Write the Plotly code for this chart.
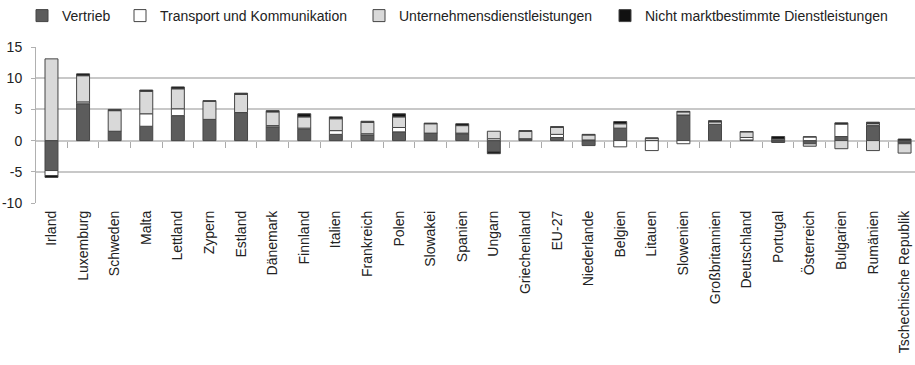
import plotly.graph_objects as go

categories = ["Irland", "Luxemburg", "Schweden", "Malta", "Lettland", "Zypern", "Estland",
              "Dänemark", "Finnland", "Italien", "Frankreich", "Polen", "Slowakei", "Spanien",
              "Ungarn", "Griechenland", "EU-27", "Niederlande", "Belgien", "Litauen",
              "Slowenien", "Großbritannien", "Deutschland", "Portugal", "Österreich",
              "Bulgarien", "Rumänien", "Tschechische Republik"]

vertrieb = [-4.8, 5.9, 1.5, 2.3, 4.0, 3.4, 4.5, 2.2, 1.8, 1.0, 0.9, 1.4, 1.2, 1.1,
            -1.8, 0.3, 0.5, -0.8, 2.0, 0.0, 4.1, 2.6, 0.1, -0.3, -0.5, 0.65, 2.4, -0.4]
transport = [-0.8, 0.3, 0.0, 2.0, 1.1, 0.0, 0.0, 0.2, 0.2, 0.6, 0.2, 0.7, 0.0, 0.1,
             0.3, 0.0, 0.5, 0.1, -1.0, -1.6, -0.5, 0.0, 0.4, 0.0, 0.6, 2.0, 0.3, -0.1]
unternehmen = [13.1, 4.2, 3.3, 3.6, 3.2, 2.9, 2.9, 2.2, 1.8, 1.9, 1.8, 1.7, 1.5, 1.2,
               1.2, 1.2, 1.1, 0.8, 0.7, 0.4, 0.5, 0.4, 0.9, 0.25, -0.4, -1.3, -1.6, -1.5]
nicht_markt = [-0.3, 0.3, 0.2, 0.2, 0.3, 0.1, 0.2, 0.2, 0.5, 0.3, 0.2, 0.5, 0.1, 0.3,
               -0.3, 0.1, 0.15, 0.1, 0.35, 0.0, 0.1, 0.2, 0.05, 0.4, 0.0, 0.2, 0.25, 0.25]

series_names = ["Vertrieb", "Transport und Kommunikation",
                "Unternehmensdienstleistungen", "Nicht marktbestimmte Dienstleistungen"]
series_values = [vertrieb, transport, unternehmen, nicht_markt]
series_colors = ["#5c5c5c", "#ffffff", "#d9d9d9", "#111111"]

y_ticks = [-10, -5, 0, 5, 10, 15]
y_tick_text = ["-10", "-5", "0", "5", "10", "15"]

# left edge of each legend entry's text (px), one legend per series
legend_text_x = [62, 160, 399, 645]

xpos = list(range(len(categories)))
FONT = "Liberation Sans, Arial, sans-serif"

fig = go.Figure()
legend_ids = ["legend", "legend2", "legend3", "legend4"]
for name, vals, col, lid in zip(series_names, series_values, series_colors, legend_ids):
    fig.add_trace(go.Bar(
        x=xpos, y=vals, name=name, legend=lid,
        marker=dict(color=col, line=dict(color="#454545", width=1)),
    ))

# invisible trace to carry the category-boundary tick marks on the zero line
fig.add_trace(go.Scatter(x=[xpos[0]], y=[None], xaxis="x2", showlegend=False,
                         hoverinfo="skip", mode="markers"))

legend_common = dict(orientation="h", xref="container", yref="container",
                     y=1 - 16 / 365, xanchor="left", yanchor="middle",
                     font=dict(size=14, color="#222222"), itemwidth=30,
                     bgcolor="rgba(0,0,0,0)")
legends = {}
for lid, tx in zip(legend_ids, legend_text_x):
    legends[lid] = dict(legend_common, x=(tx - 40) / 915)

fig.update_layout(
    width=915, height=365,
    barmode="relative", bargap=0.59,
    plot_bgcolor="white", paper_bgcolor="white",
    margin=dict(l=36, r=0, t=47, b=162, autoexpand=False),
    font=dict(family=FONT, size=14, color="#222222"),
    xaxis=dict(range=[-0.49, 27.33], tickmode="array", tickvals=xpos, ticktext=categories,
               tickangle=-90, ticks="", showgrid=False, zeroline=False, showline=False,
               automargin=False, ticklabelstandoff=4,
               tickfont=dict(size=14, color="#222222")),
    xaxis2=dict(overlaying="x", matches="x", anchor="free", position=0.4,
                tickmode="array", tickvals=[i + 0.5 for i in xpos[:-1]],
                ticks="outside", ticklen=6, tickcolor="#aaaaaa", tickwidth=1,
                showticklabels=False, showgrid=False, zeroline=False, showline=False),
    yaxis=dict(range=[-10, 15], tickmode="array", tickvals=y_ticks, ticktext=y_tick_text,
               showgrid=True, gridcolor="#c8c8c8", gridwidth=1.5,
               zeroline=True, zerolinecolor="#c8c8c8", zerolinewidth=1.5,
               showline=True, linecolor="#b0b0b0", linewidth=1,
               ticks="outside", ticklen=4, tickcolor="#b0b0b0",
               ticklabelstandoff=6, automargin=False,
               tickfont=dict(size=14, color="#222222")),
    **legends,
)

fig.write_html("out.html", config={"displayModeBar": False},
               post_script="document.body.style.margin='0';document.body.style.overflow='hidden';")
